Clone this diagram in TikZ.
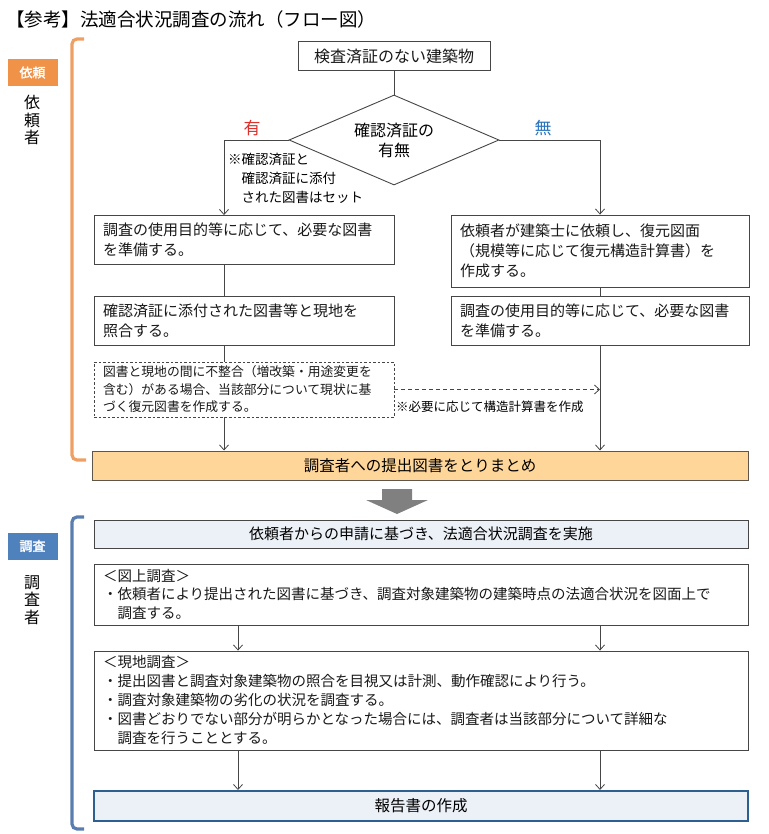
\documentclass[tikz,border=0pt]{standalone}
\usepackage{fontspec}
\setmainfont{Noto Sans CJK JP}[AutoFakeBold=2]
\usetikzlibrary{arrows.meta,shapes.geometric}
\definecolor{linec}{RGB}{70,70,70}
\definecolor{orlab}{RGB}{240,146,72}
\definecolor{orbr}{RGB}{238,160,100}
\definecolor{orfill}{RGB}{255,214,153}
\definecolor{orbd}{RGB}{95,85,75}
\definecolor{bllab}{RGB}{79,129,189}
\definecolor{blbr}{RGB}{90,125,175}
\definecolor{blfill}{RGB}{236,240,247}
\definecolor{blbd}{RGB}{45,95,145}
\definecolor{grar}{RGB}{128,128,128}
\definecolor{yesred}{RGB}{220,50,45}
\definecolor{noblue}{RGB}{40,115,190}
\newcommand\fsz[2]{\fontsize{#1}{#2}\selectfont}
\begin{document}
\begin{tikzpicture}[x=1pt,y=-1pt,
  line/.style={draw=linec, line width=0.8pt},
  arr/.style={line, -{Straight Barb[length=5pt,width=9pt,line width=0.8pt]}},
  box/.style={draw=linec, line width=0.9pt, fill=white, inner xsep=9pt, inner ysep=0pt, align=left, text=black!90},
  lab/.style={minimum width=50pt, minimum height=27pt, inner sep=0pt, text=white, font=\fsz{13}{15}\bfseries},
  vlab/.style={align=center, font=\fsz{16}{17.5}, inner sep=0pt},
  bigbox/.style={box, minimum width=654pt, text width=636pt}
]
\useasboundingbox (0,0) rectangle (768,834);

\node[anchor=west, inner sep=0pt, font=\fsz{18.5}{22}] (title) at (6,19) {【参考】法適合状況調査の流れ（フロー図）};

% brackets
\draw[orbr, line width=3.2pt, rounded corners=5pt] (84,39) -- (72,39) -- (72,460) -- (86,460);
\draw[blbr, line width=3.2pt, rounded corners=5pt] (84,517) -- (72,517) -- (72,829) -- (84,829);

\node[lab, fill=orlab] (lab1) at (32.5,72.5) {依頼};
\node[vlab] (who1) at (32,120) {依\\頼\\者};
\node[lab, fill=bllab] (lab2) at (32.5,546) {調査};
\node[vlab] (who2) at (32,600) {調\\査\\者};

% upper flow
\node[box, align=center, minimum width=192pt, minimum height=29pt, font=\fsz{16}{19}] (top) at (394,56) {検査済証のない建築物};
\node[diamond, aspect=2.33, draw=linec, line width=0.9pt, minimum width=210pt, minimum height=90pt, inner sep=0pt, align=center, font=\fsz{16}{20}] (dia) at (394,140) {確認済証の\\有無};
\node[font=\fsz{17}{20}, text=yesred, inner sep=0pt] (yes) at (252,128) {有};
\node[font=\fsz{17}{20}, text=noblue, inner sep=0pt] (no) at (543,128) {無};
\node[anchor=north west, align=left, inner sep=0pt, font=\fsz{13.5}{19}] (note1) at (228,153) {※確認済証と\\　確認済証に添付\\　された図書はセット};

\node[box, minimum width=300pt, text width=282pt, minimum height=49pt, font=\fsz{15}{20}] (L1) at (244,240) {調査の使用目的等に応じて、必要な図書\\を準備する。};
\node[box, minimum width=300pt, text width=282pt, minimum height=49pt, font=\fsz{15}{20}] (L2) at (244,321) {確認済証に添付された図書等と現地を\\照合する。};
\node[box, dash pattern=on 2.5pt off 2pt, line width=0.8pt, minimum width=300pt, text width=282pt, minimum height=55pt, font=\fsz{12.8}{17.5}] (D) at (244,389.5) {図書と現地の間に不整合（増改築・用途変更を\\含む）がある場合、当該部分について現状に基\\づく復元図書を作成する。};

\node[box, minimum width=298pt, text width=280pt, minimum height=72pt, font=\fsz{15}{20}] (R1) at (600,251) {依頼者が建築士に依頼し、復元図面\\（規模等に応じて復元構造計算書）を\\作成する。};
\node[box, minimum width=298pt, text width=280pt, minimum height=49pt, font=\fsz{15}{20}] (R2) at (600,321) {調査の使用目的等に応じて、必要な図書\\を準備する。};

\node[anchor=north west, inner sep=0pt, font=\fsz{12.5}{15}] (note2) at (396,401) {※必要に応じて構造計算書を作成};

\node[draw=orbd, fill=orfill, line width=1pt, minimum width=656pt, minimum height=29pt, inner sep=0pt, font=\fsz{15.5}{18}] (O) at (420,465.5) {調査者への提出図書をとりまとめ};

\fill[grar] (382,489) -- (412,489) -- (412,500) -- (428,500) -- (397,514) -- (366,500) -- (382,500) -- cycle;

% lower flow
\node[draw=linec, fill=blfill, line width=0.9pt, minimum width=654pt, minimum height=28pt, inner sep=0pt, font=\fsz{15}{18}] (B1) at (421,534) {依頼者からの申請に基づき、法適合状況調査を実施};
\node[bigbox, minimum height=61pt, font=\fsz{14.5}{18.5}] (G1) at (421,594.5) {＜図上調査＞\\・依頼者により提出された図書に基づき、調査対象建築物の建築時点の法適合状況を図面上で\\　調査する。};
\node[bigbox, minimum height=99pt, font=\fsz{14.5}{19}] (G2) at (421,700.5) {＜現地調査＞\\・提出図書と調査対象建築物の照合を目視又は計測、動作確認により行う。\\・調査対象建築物の劣化の状況を調査する。\\・図書どおりでない部分が明らかとなった場合には、調査者は当該部分について詳細な\\　調査を行うこととする。};
\node[draw=blbd, fill=blfill, line width=2pt, minimum width=654pt, minimum height=30pt, inner sep=0pt, font=\fsz{15.5}{18}] (F) at (421,806) {報告書の作成};

% connectors
\coordinate (cl) at (238,0);
\coordinate (cr) at (600,0);
\draw[line] (top) -- (dia);
\draw[arr] (dia.west) -| ([xshift=-20pt]L1.north);
\draw[arr] (dia.east) -| (R1.north);
\draw[line] ([xshift=-20pt]L1.south) -- ([xshift=-20pt]L2.north);
\draw[line] ([xshift=-20pt]L2.south) -- ([xshift=-20pt]D.north);
\draw[arr] ([xshift=-20pt]D.south) -- ([xshift=-20pt]D.south |- O.north);
\draw[line] (R1) -- (R2);
\draw[arr] (R2.south) -- (R2.south |- O.north);
\draw[arr, dash pattern=on 4pt off 3pt] (D.east) -- (D.east -| R2.south);
\draw[arr] (G1.south -| cl) -- (G2.north -| cl);
\draw[arr] (G1.south -| cr) -- (G2.north -| cr);
\draw[arr] (G2.south -| cl) -- (F.north -| cl);
\draw[arr] (G2.south -| cr) -- (F.north -| cr);
\end{tikzpicture}
\end{document}
